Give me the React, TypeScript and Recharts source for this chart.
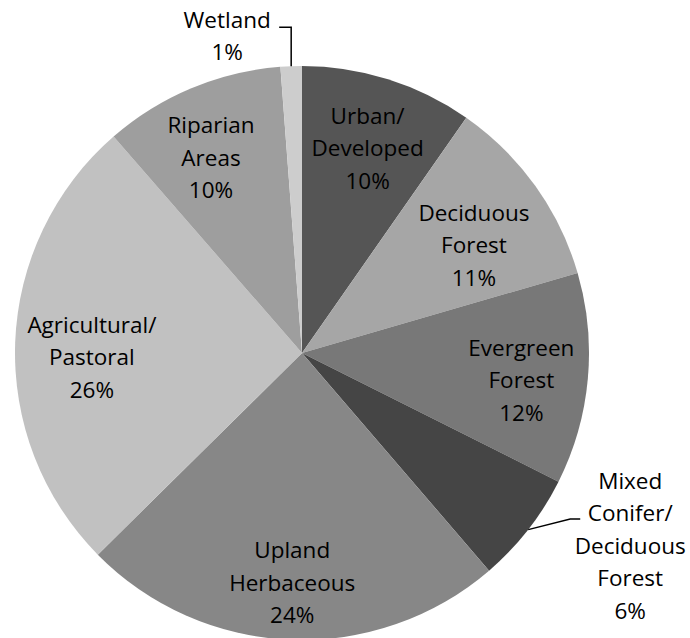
import { PieChart, Pie, Cell } from 'recharts';

// label text split into display lines, in slice order (clockwise from 12 o'clock)
const LABEL_LINES: string[][] = [
  ['Urban/', 'Developed'],
  ['Deciduous', 'Forest'],
  ['Evergreen', 'Forest'],
  ['Mixed', 'Conifer/', 'Deciduous', 'Forest'],
  ['Upland', 'Herbaceous'],
  ['Agricultural/', 'Pastoral'],
  ['Riparian', 'Areas'],
  ['Wetland'],
];

const CATEGORIES = LABEL_LINES.map((l) => l.join(' '));

// share of area, percent
const SHARES = [9.7, 10.8, 11.9, 6.3, 23.9, 26.0, 10.2, 1.2];

const COLORS = [
  '#555555',
  '#a6a6a6',
  '#787878',
  '#454545',
  '#878787',
  '#c1c1c1',
  '#9e9e9e',
  '#cdcdcd',
];

const data = CATEGORIES.map((name, i) => ({ name, value: SHARES[i] }));

const RAD = Math.PI / 180;
const LINE_H = 32.5;
const FONT = '"Open Sans", sans-serif';

// small nudges so labels sit where the best-fit layout put them
const INSIDE_NUDGE: Record<number, [number, number]> = {
  0: [1, 0],
  1: [-3, 17],
  2: [5, 7],
  4: [-1, 14],
  5: [5, 12],
  6: [-8, 3],
};

function TextBlock({ x, y, lines }: { x: number; y: number; lines: string[] }) {
  return (
    <text
      x={x}
      y={y}
      textAnchor="middle"
      fontFamily={FONT}
      fontSize={22.5}
      fill="#000"
    >
      {lines.map((line, i) => (
        <tspan
          key={i}
          x={x}
          y={y + (i - (lines.length - 1) / 2) * LINE_H}
          dominantBaseline="central"
        >
          {line}
        </tspan>
      ))}
    </text>
  );
}

function renderLabel(props: any) {
  const { cx, cy, midAngle, outerRadius, percent, index } = props;
  const lines = [...LABEL_LINES[index], `${Math.round(percent * 100)}%`];
  const cos = Math.cos(-midAngle * RAD);
  const sin = Math.sin(-midAngle * RAD);

  if (index === 7) {
    // Wetland: leader up from the rim, then left
    const ex = cx + outerRadius * cos;
    const ey = cy + outerRadius * sin;
    const points = `${ex},${ey} ${ex},${ey - 39} ${ex - 12},${ey - 39}`;
    return (
      <g key={`lbl-${index}`}>
        <polyline points={points} fill="none" stroke="#000" strokeWidth={1.5} />
        <TextBlock x={ex - 64} y={ey - 30.5} lines={lines} />
      </g>
    );
  }

  if (index === 3) {
    // Mixed: leader out from the rim, then short horizontal
    const ex = cx + outerRadius * cos;
    const ey = cy + outerRadius * sin;
    const points = `${ex},${ey} ${ex + 42},${ey - 10.6} ${ex + 52},${ey - 10.6}`;
    return (
      <g key={`lbl-${index}`}>
        <polyline points={points} fill="none" stroke="#000" strokeWidth={1.5} />
        <TextBlock x={ex + 102} y={ey + 15.4} lines={lines} />
      </g>
    );
  }

  const r = outerRadius * 0.75;
  const [dx, dy] = INSIDE_NUDGE[index] ?? [0, 0];
  return (
    <TextBlock
      key={`lbl-${index}`}
      x={cx + r * cos + dx}
      y={cy + r * sin + dy}
      lines={lines}
    />
  );
}

export default function App() {
  return (
    <div style={{ position: 'absolute', left: 0, top: 0, width: 690, height: 638, background: '#fff' }}>
      <PieChart width={690} height={638} margin={{ top: 0, right: 0, bottom: 0, left: 0 }}>
        <Pie
          data={data}
          dataKey="value"
          nameKey="name"
          cx={302}
          cy={353}
          outerRadius={287}
          startAngle={90}
          endAngle={-270}
          stroke="none"
          label={renderLabel}
          labelLine={false}
          isAnimationActive={false}
        >
          {data.map((d, i) => (
            <Cell key={d.name} fill={COLORS[i]} />
          ))}
        </Pie>
      </PieChart>
    </div>
  );
}
